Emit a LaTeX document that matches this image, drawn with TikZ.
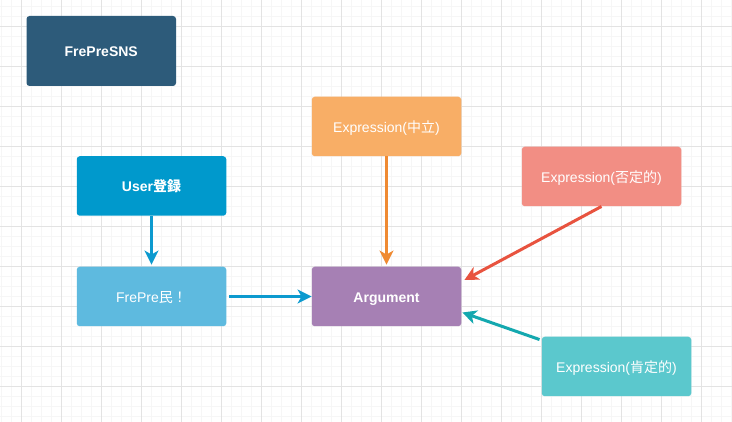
\documentclass[tikz,border=0pt]{standalone}
\usepackage{fontspec}
\setmainfont{Liberation Sans}
\newfontfamily\cjk{Noto Sans CJK JP}
\usepackage{tikz}
\usepackage{xcolor}
\usetikzlibrary{arrows.meta,calc}

\definecolor{snsblue}{HTML}{2D5B7A}
\definecolor{userblue}{HTML}{0099CC}
\definecolor{frepreblue}{HTML}{5EBADF}
\definecolor{arrowblue}{HTML}{0C9ACF}
\definecolor{argpurple}{HTML}{A680B4}
\definecolor{neutralorange}{HTML}{F8AE66}
\definecolor{arroworange}{HTML}{EF8A32}
\definecolor{negred}{HTML}{F28E84}
\definecolor{arrowred}{HTML}{E8533F}
\definecolor{posteal}{HTML}{5BC8CD}
\definecolor{arrowteal}{HTML}{14A8AF}
\definecolor{minorgrid}{HTML}{F6F6F6}
\definecolor{majorgrid}{HTML}{E3E3E3}

\begin{document}
\begin{tikzpicture}[x=1pt,y=-1pt,
  box/.style={rectangle,rounded corners=3pt,minimum width=149.5pt,minimum height=59.5pt,
    text=white,font=\fontsize{14}{16}\selectfont,inner sep=0pt,text height=12pt,text depth=0pt},
  link/.style={line width=3pt,-{Stealth[length=14pt,width=14pt,inset=4pt]}}]
\useasboundingbox (0,0) rectangle (732,422);
\fill[white] (0,0) rectangle (732,422);
%grid
\foreach \x in {1.5,11.5,...,731.5} \draw[minorgrid,line width=0.8pt] (\x,0)--(\x,422);
\foreach \y in {6.5,16.5,...,421.5} \draw[minorgrid,line width=0.8pt] (0,\y)--(732,\y);
\foreach \x in {21.5,61.5,...,721.5} \draw[majorgrid,line width=0.8pt] (\x,0)--(\x,422);
\foreach \y in {26.5,66.5,...,406.5} \draw[majorgrid,line width=0.8pt] (0,\y)--(732,\y);

\node[box,fill=snsblue,minimum height=70pt,font=\fontsize{14}{16}\selectfont\bfseries] (sns) at (101.25,51) {FrePreSNS};
\node[box,fill=userblue,font=\fontsize{14}{16}\selectfont\bfseries] (user) at (151.5,186) {User{\cjk 登録}};
\node[box,fill=frepreblue] (frepre) at (151.5,296.5) {FrePre{\cjk 民！}};
\node[box,fill=argpurple,font=\fontsize{14}{16}\selectfont\bfseries] (arg) at (386.5,296.5) {Argument};
\node[box,fill=neutralorange] (neutral) at (386.5,126.5) {Expression({\cjk 中立})};
\node[box,fill=negred,minimum width=159.5pt] (neg) at (601.5,176.5) {Expression({\cjk 否定的})};
\node[box,fill=posteal] (pos) at (616.5,366.5) {Expression({\cjk 肯定的})};

\draw[link,arrowblue] (user.south)--([yshift=2pt]frepre.north);
\draw[link,arrowblue,shorten <=3pt] (frepre.east)--(arg.west);
\draw[link,arroworange] (neutral.south)--([yshift=2pt]arg.north);
\draw[link,arrowred] (neg.south)--($(arg.east)+(3,-16.5)$);
\draw[link,arrowteal] ($(pos.north west)+(-2,3)$)--($(arg.east)+(1,16)$);

\end{tikzpicture}
\end{document}
